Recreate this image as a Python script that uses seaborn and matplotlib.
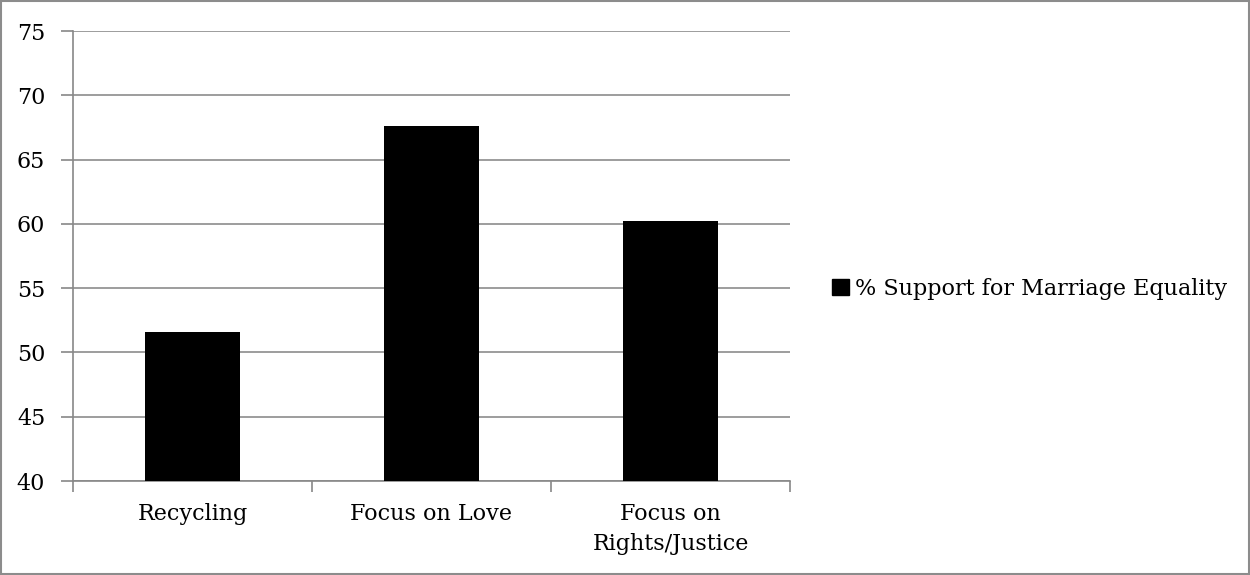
import matplotlib
matplotlib.use("Agg")
import matplotlib.pyplot as plt
import matplotlib.patches as mpatches
import seaborn as sns
import pandas as pd

categories = ["Recycling", "Focus on Love", "Focus on\nRights/Justice"]
support = [51.6, 67.6, 60.2]
series_name = "% Support for Marriage Equality"
yticks = [40, 45, 50, 55, 60, 65, 70, 75]

df = pd.DataFrame({"condition": categories, "support": support})

sns.set_style("white")
plt.rcParams["font.family"] = ["DejaVu Serif"]
plt.rcParams["text.color"] = "black"

fig = plt.figure(figsize=(12.5, 5.75), dpi=100)
ax = fig.add_axes([73 / 1250, 1 - 481 / 575, (790 - 73) / 1250, (481 - 31) / 575])

sns.barplot(data=df, x="condition", y="support", color="black", saturation=1,
            width=0.4, ax=ax, zorder=3, linewidth=0)

ax.set_ylim(40, 75)
ax.set_yticks(yticks)
ax.set_xlim(-0.5, 2.5)
# boundary ticks as major (no labels), category labels as minor (no tick marks)
ax.set_xticks([-0.5, 0.5, 1.5, 2.5])
ax.set_xticklabels([])
ax.set_xticks([0, 1, 2], minor=True)
ax.set_xticklabels(categories, minor=True, linespacing=1.45)
ax.tick_params(axis="x", which="minor", bottom=True, length=0, pad=16, labelsize=16,
               labelcolor="black")
ax.tick_params(axis="x", which="major", bottom=True, length=8, width=1.2, color="#888888",
               direction="out")
ax.tick_params(axis="y", left=True, length=9, width=1.2, color="#888888", direction="out",
               labelsize=16, labelcolor="black", pad=11)
ax.yaxis.grid(True, color="#8c8c8c", linewidth=1.2, zorder=0)
ax.set_axisbelow(True)
ax.set_xlabel("")
ax.set_ylabel("")
for s in ["top", "right"]:
    ax.spines[s].set_visible(False)
for s in ["left", "bottom"]:
    ax.spines[s].set_color("#888888")
    ax.spines[s].set_linewidth(1.2)

handle = mpatches.Patch(facecolor="black", edgecolor="black", label=series_name)
fig.legend(handles=[handle], loc="center left", bbox_to_anchor=(812 / 1250, 1 - 289 / 575),
           frameon=False, fontsize=16, handlelength=0.75, handleheight=0.75,
           handletextpad=0.3, labelcolor="black")

# outer frame
fig.patches.append(mpatches.Rectangle((0.0008, 0.001), 0.9984, 0.997, transform=fig.transFigure,
                                      fill=False, edgecolor="#8c8c8c", linewidth=1.5))

fig.savefig("out.png", dpi=100)
